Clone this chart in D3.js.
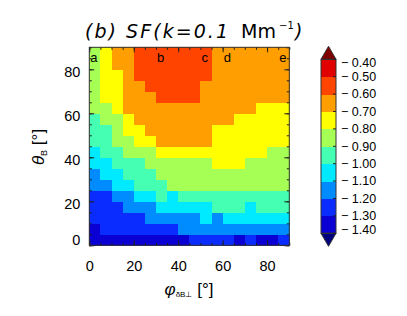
<!DOCTYPE html>
<html>
<head>
<meta charset="utf-8">
<script src="https://cdn.jsdelivr.net/npm/d3@7/dist/d3.min.js"></script>
<style>
  body { margin: 0; background: #fff; }
  text { font-family: "Liberation Sans", Arial, sans-serif; fill: #000; }
</style>
</head>
<body>
<svg id="chart" width="407" height="316"></svg>
<script>
// phi_dB_perp bins (left edge, deg) and theta_B bins (bottom edge, deg)
var phiBins = [0, 5, 10, 15, 20, 25, 30, 35, 40, 45, 50, 55, 60, 65, 70, 75, 80, 85];
var thetaBins = [0, 5, 10, 15, 20, 25, 30, 35, 40, 45, 50, 55, 60, 65, 70, 75, 80, 85];

// SF values, one row per theta bin (theta 0 first), one value per phi bin
var sfRows = [
  [-1.35,-1.35,-1.35,-1.35,-1.35,-1.35,-1.35,-1.35,-1.35,-1.25,-1.25,-1.25,-1.25,-1.35,-1.25,-1.35,-1.35,-1.25],
  [-1.35,-1.25,-1.25,-1.25,-1.25,-1.25,-1.25,-1.25,-1.15,-1.15,-1.15,-1.15,-1.15,-1.15,-1.15,-1.15,-1.15,-1.15],
  [-1.25,-1.25,-1.25,-1.25,-1.25,-1.15,-1.15,-1.15,-1.15,-1.15,-1.05,-1.15,-1.05,-1.05,-1.05,-1.05,-1.05,-1.05],
  [-1.25,-1.25,-1.25,-1.15,-1.15,-1.15,-1.05,-1.05,-1.05,-1.05,-1.05,-0.95,-0.95,-0.95,-1.05,-0.95,-0.95,-0.95],
  [-1.25,-1.25,-1.15,-1.15,-1.05,-1.05,-0.95,-1.05,-0.95,-0.95,-0.95,-0.95,-0.95,-0.95,-0.95,-0.95,-0.95,-0.95],
  [-1.15,-1.15,-1.05,-1.05,-0.95,-0.95,-0.95,-0.85,-0.85,-0.85,-0.85,-0.85,-0.85,-0.85,-0.85,-0.85,-0.85,-0.85],
  [-1.15,-1.05,-1.05,-0.95,-0.95,-0.95,-0.85,-0.85,-0.85,-0.85,-0.85,-0.85,-0.85,-0.85,-0.85,-0.85,-0.85,-0.85],
  [-1.05,-1.05,-0.95,-0.95,-0.95,-0.85,-0.85,-0.85,-0.85,-0.85,-0.85,-0.75,-0.75,-0.75,-0.85,-0.85,-0.85,-0.85],
  [-1.05,-0.95,-0.95,-0.85,-0.85,-0.85,-0.75,-0.75,-0.75,-0.75,-0.75,-0.75,-0.75,-0.75,-0.75,-0.75,-0.85,-0.85],
  [-0.95,-0.95,-0.85,-0.85,-0.75,-0.75,-0.65,-0.65,-0.65,-0.65,-0.65,-0.75,-0.75,-0.75,-0.75,-0.75,-0.75,-0.75],
  [-0.95,-0.95,-0.85,-0.75,-0.75,-0.65,-0.65,-0.65,-0.65,-0.65,-0.65,-0.75,-0.75,-0.75,-0.75,-0.75,-0.75,-0.75],
  [-0.95,-0.85,-0.85,-0.75,-0.65,-0.65,-0.65,-0.65,-0.65,-0.65,-0.65,-0.65,-0.65,-0.75,-0.75,-0.75,-0.75,-0.75],
  [-0.85,-0.85,-0.75,-0.65,-0.65,-0.65,-0.65,-0.65,-0.65,-0.65,-0.65,-0.65,-0.65,-0.65,-0.65,-0.75,-0.75,-0.75],
  [-0.85,-0.75,-0.75,-0.65,-0.65,-0.65,-0.55,-0.55,-0.55,-0.55,-0.65,-0.65,-0.65,-0.65,-0.65,-0.65,-0.65,-0.65],
  [-0.85,-0.75,-0.75,-0.65,-0.65,-0.55,-0.55,-0.55,-0.55,-0.55,-0.65,-0.65,-0.65,-0.65,-0.65,-0.65,-0.65,-0.65],
  [-0.85,-0.75,-0.75,-0.65,-0.55,-0.55,-0.55,-0.55,-0.55,-0.55,-0.55,-0.65,-0.65,-0.65,-0.65,-0.65,-0.65,-0.65],
  [-0.85,-0.75,-0.65,-0.65,-0.55,-0.55,-0.55,-0.55,-0.55,-0.55,-0.55,-0.65,-0.65,-0.65,-0.65,-0.65,-0.65,-0.65],
  [-0.85,-0.75,-0.65,-0.65,-0.55,-0.55,-0.55,-0.55,-0.55,-0.55,-0.55,-0.65,-0.65,-0.65,-0.65,-0.65,-0.65,-0.65]
];

// contour levels and colours (below first level ... above last level)
var levels = [-1.40, -1.30, -1.20, -1.10, -1.00, -0.90, -0.80, -0.70, -0.60, -0.50, -0.40];
var levelColors = ["#00007f", "#0a00d4", "#0a2cff", "#008cff", "#00eaff", "#45ffb3",
                   "#a6ff55", "#ffff00", "#ff9e00", "#ff4400", "#e00000", "#7f0000"];

var xTicks = [0, 20, 40, 60, 80];
var yTicks = [0, 20, 40, 60, 80];
var minorTicks = [0, 5, 10, 15, 20, 25, 30, 35, 40, 45, 50, 55, 60, 65, 70, 75, 80, 85, 90];

// marker letters along the top of the panel
var markNames = ["a", "b", "c", "d", "e"];
var markPhi = [0, 30, 50, 60, 85];

var svg = d3.select("#chart");

var x = d3.scaleLinear().domain([0, 90]).range([89.3, 289.3]);
var y = d3.scaleLinear().domain([0, 90]).range([245.3, 47.3]);
var color = d3.scaleThreshold().domain(levels).range(levelColors);

var cells = [];
sfRows.forEach(function(row, j) {
  row.forEach(function(v, i) {
    cells.push({phi: phiBins[i], theta: thetaBins[j], v: v});
  });
});

svg.append("g").selectAll("rect")
  .data(cells)
  .enter()
  .append("rect")
  .attr("x", function(d) { return x(d.phi); })
  .attr("y", function(d) { return y(d.theta + 5); })
  .attr("width", function(d) { return x(d.phi + 5) - x(d.phi) + 0.5; })
  .attr("height", function(d) { return y(d.theta) - y(d.theta + 5) + 0.5; })
  .attr("fill", function(d) { return color(d.v); })
  .attr("shape-rendering", "crispEdges");

// letters
svg.append("g").selectAll("text")
  .data(markNames)
  .enter()
  .append("text")
  .attr("x", function(d, i) { return x(markPhi[i]) + 1; })
  .attr("y", 62)
  .attr("font-size", 13)
  .text(function(d) { return d; });

// axes: ticks point inwards on all sides
function noLabel() { return ""; }
var plot = svg.append("g");

plot.append("g").attr("transform", "translate(0," + y(0) + ")")
  .call(d3.axisBottom(x).tickValues(minorTicks).tickSize(-2.5).tickFormat(noLabel));
plot.append("g").attr("transform", "translate(0," + y(0) + ")")
  .call(d3.axisBottom(x).tickValues(xTicks).tickSize(-5).tickPadding(15).tickFormat(d3.format("d")));
plot.append("g").attr("transform", "translate(0," + y(90) + ")")
  .call(d3.axisTop(x).tickValues(minorTicks).tickSize(-2.5).tickFormat(noLabel));
plot.append("g").attr("transform", "translate(0," + y(90) + ")")
  .call(d3.axisTop(x).tickValues(xTicks).tickSize(-5).tickFormat(noLabel));

plot.append("g").attr("transform", "translate(" + x(0) + ",0)")
  .call(d3.axisLeft(y).tickValues(minorTicks).tickSize(-2.5).tickFormat(noLabel));
plot.append("g").attr("class", "yax").attr("transform", "translate(" + x(0) + ",0)")
  .call(d3.axisLeft(y).tickValues(yTicks).tickSize(-5).tickPadding(9).tickFormat(d3.format("d")));
plot.append("g").attr("transform", "translate(" + x(90) + ",0)")
  .call(d3.axisRight(y).tickValues(minorTicks).tickSize(-2.5).tickFormat(noLabel));
plot.append("g").attr("transform", "translate(" + x(90) + ",0)")
  .call(d3.axisRight(y).tickValues(yTicks).tickSize(-5).tickFormat(noLabel));

plot.selectAll(".domain").remove();
plot.selectAll(".tick line").attr("stroke", "#222");
plot.selectAll(".tick text")
  .attr("font-family", "Liberation Sans, Arial, sans-serif")
  .attr("font-size", 14.5);
plot.select(".yax").selectAll(".tick text")
  .attr("dy", function(d) { return d === 0 ? "-0.05em" : "0.5em"; });

svg.append("rect")
  .attr("x", x(0)).attr("y", y(90))
  .attr("width", x(90) - x(0)).attr("height", y(0) - y(90))
  .attr("fill", "none").attr("stroke", "#333").attr("stroke-width", 1);

// title
var title = svg.append("text").attr("y", 38).attr("font-size", 19)
  .style("font-family", "'DejaVu Sans', sans-serif");
title.append("tspan").attr("x", 85).attr("font-style", "italic")
  .attr("textLength", 143).attr("lengthAdjust", "spacing").text("(b) SF(k=0.1");
title.append("tspan").attr("x", 241).text("Mm");
title.append("tspan").attr("x", 279).attr("dy", -9).attr("font-size", 10).text("\u22121");
title.append("tspan").attr("x", 295).attr("dy", 9).attr("font-style", "italic").text(")");

// x axis title
var xt = svg.append("text").attr("x", 189).attr("y", 295).attr("text-anchor", "middle").attr("font-size", 17);
xt.append("tspan").attr("font-style", "italic").text("\u03c6");
xt.append("tspan").attr("font-size", 8).attr("dy", 2).text("\u03b4B\u22a5");
xt.append("tspan").attr("dy", -2).text(" [\u00b0]");

// y axis title
var yt = svg.append("text").attr("transform", "translate(44,147) rotate(-90)")
  .attr("text-anchor", "middle").attr("font-size", 17);
yt.append("tspan").attr("font-style", "italic").text("\u03b8");
yt.append("tspan").attr("font-size", 9).attr("dy", 3).text("B");
yt.append("tspan").attr("dy", -3).text(" [\u00b0]");

// colour bar
var cbX = 321, cbW = 15;
var cb = d3.scaleLinear().domain([-1.40, -0.40]).range([233.3, 59.3]);
var bands = levels.slice(0, -1).map(function(lo, i) { return {lo: lo, hi: levels[i + 1]}; });

var bar = svg.append("g");
bar.selectAll("rect")
  .data(bands)
  .enter()
  .append("rect")
  .attr("x", cbX)
  .attr("y", function(d) { return cb(d.hi); })
  .attr("width", cbW)
  .attr("height", function(d) { return cb(d.lo) - cb(d.hi) + 0.5; })
  .attr("fill", function(d) { return color((d.lo + d.hi) / 2); })
  .attr("shape-rendering", "crispEdges");

bar.append("path")
  .attr("d", "M" + cbX + "," + cb(-0.40) + "L" + (cbX + cbW / 2) + "," + (cb(-0.40) - 13) + "L" + (cbX + cbW) + "," + cb(-0.40) + "Z")
  .attr("fill", color(-0.30)).attr("stroke", "#333");
bar.append("path")
  .attr("d", "M" + cbX + "," + cb(-1.40) + "L" + (cbX + cbW / 2) + "," + (cb(-1.40) + 13) + "L" + (cbX + cbW) + "," + cb(-1.40) + "Z")
  .attr("fill", color(-1.50)).attr("stroke", "#333");
bar.append("rect")
  .attr("x", cbX).attr("y", cb(-0.40))
  .attr("width", cbW).attr("height", cb(-1.40) - cb(-0.40))
  .attr("fill", "none").attr("stroke", "#333");

bar.selectAll("line")
  .data(levels)
  .enter()
  .append("line")
  .attr("x1", cbX + cbW - 3).attr("x2", cbX + cbW)
  .attr("y1", function(d) { return cb(d); })
  .attr("y2", function(d) { return cb(d); })
  .attr("stroke", "#222");

bar.selectAll("text")
  .data(levels)
  .enter()
  .append("text")
  .attr("x", 341)
  .attr("y", function(d) { return Math.min(Math.max(cb(d), 63), 229.5); })
  .attr("dy", "0.35em")
  .attr("font-size", 12.5)
  .text(function(d) { return "\u2212 " + d3.format(".2f")(-d); });
</script>
</body>
</html>
